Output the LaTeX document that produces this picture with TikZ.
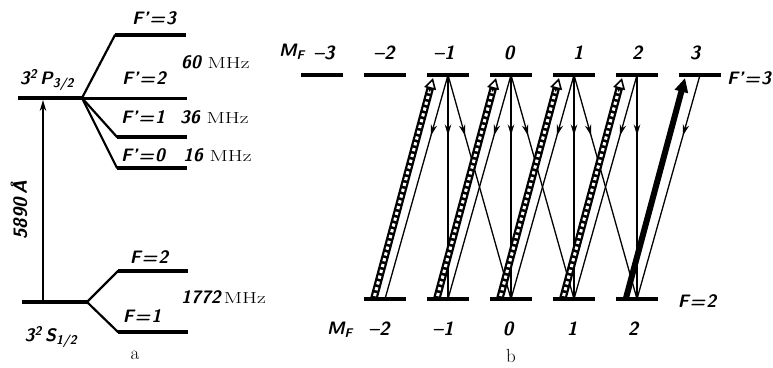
\documentclass[tikz,border=0pt]{standalone}
\usepackage{fontspec}
\usepackage{graphicx}
\usetikzlibrary{arrows.meta,decorations.markings,calc}
\newcommand\hpump[2]{%
  \draw[line width=7.5pt, shorten >=8pt] (#1) -- (#2);
  \draw[line width=3pt, white, dash pattern=on 3.2pt off 2.8pt, shorten >=9pt, shorten <=2pt] (#1) -- (#2);
  \draw[line width=1.6pt, -{Triangle[length=11pt,width=12pt,fill=white]}] ($(#2)!14pt!(#1)$) -- (#2);
}
\newcommand\mhzword{{\fontsize{16}{18}\selectfont\rmfamily\mdseries\upshape\scalebox{1.35}[1]{MHz}}}
\newcommand\eq{\kern1pt=\kern1pt}
\begin{document}
\begin{tikzpicture}[x=1pt,y=-1pt,
  lvl/.style={line width=3.8pt},
  fan/.style={line width=2.2pt, line cap=round},
  thinl/.style={line width=1.3pt},
  lab/.style={font=\fontsize{18}{20}\selectfont\sffamily\bfseries\slshape, inner sep=0pt},
  num/.style={font=\fontsize{19}{21}\selectfont\sffamily\bfseries\slshape, inner sep=0pt},
  figcap/.style={inner sep=0pt, font=\fontsize{19}{21}\selectfont\rmfamily},
  decay/.style={thinl, postaction={decorate}, decoration={markings,
     mark=at position 0.27 with {\arrow{Stealth[length=11pt,width=6.5pt]}}}},
]
\useasboundingbox (0,0) rectangle (773,367);

% ---------- part a ----------
\coordinate (Pl) at (18,98);  \coordinate (Pf) at (82,98);
\coordinate (P3a) at (115,35); \coordinate (P3b) at (186,35);
\coordinate (P2b) at (187,98);
\coordinate (P1a) at (117,137); \coordinate (P1b) at (187,137);
\coordinate (P0a) at (117,168); \coordinate (P0b) at (187,168);
\draw[lvl] (Pl) -- (Pf);
\draw[fan] (Pf) -- (P3a); \draw[lvl] (P3a) -- (P3b);
\draw[line width=3pt] (Pf) -- (P2b);
\draw[fan] (Pf) -- (P1a); \draw[lvl] (P1a) -- (P1b);
\draw[fan] (Pf) -- (P0a); \draw[lvl] (P0a) -- (P0b);

\coordinate (Sl) at (22,302); \coordinate (Sf) at (87,302);
\coordinate (S2a) at (118,271); \coordinate (S2b) at (188,271);
\coordinate (S1a) at (118,332); \coordinate (S1b) at (188,332);
\draw[lvl] (Sl) -- (Sf);
\draw[fan] (Sf) -- (S2a); \draw[lvl] (S2a) -- (S2b);
\draw[fan] (Sf) -- (S1a); \draw[lvl] (S1a) -- (S1b);

\coordinate (Ab) at (43,302); \coordinate (At) at (43,100);
\draw[thinl, -{Stealth[length=11pt,width=6.5pt]}] (Ab) -- (At);

\node[lab] (tF3) at (154,18) {F'\eq 3};
\node[lab] (tF2) at (144,78) {F'\eq 2};
\node[lab] (tF1) at (143,117) {F'\eq 1};
\node[lab] (tF0) at (143,155) {F'\eq 0};
\node[lab, anchor=west] (t60) at (181,62) {60 \mhzword};
\node[lab, anchor=west] (t36) at (180,117) {36 \mhzword};
\node[lab, anchor=west] (t16) at (183,155) {16 \mhzword};
\node[lab] (tP) at (47,80) {3\textsuperscript{2}\,P\textsubscript{3/2}};
\node[lab] (tG2) at (149,257) {F\eq 2};
\node[lab] (tG1) at (142,316) {F\eq 1};
\node[lab, anchor=west] (t1772) at (181,297) {1772\,\mhzword};
\node[lab] (tS) at (51,337) {3\textsuperscript{2}\,S\textsubscript{1/2}};
\node[figcap] (ta) at (135,355) {a};
\node[lab, rotate=90, font=\fontsize{19}{23}\selectfont\sffamily\bfseries\slshape] (tl) at (19,210) {5890\,\AA};

% ---------- part b ----------
\foreach \k/\x in {0/322,1/385,2/448,3/511,4/574,5/637,6/700}
  \coordinate (u\k) at (\x,75);
\foreach \k in {1,...,5}
  \coordinate (l\k) at ($(u\k)+(0,224)$);
\foreach \k in {0,...,6}
  \draw[lvl] ($(u\k)+(-21,0)$) -- ($(u\k)+(21,0)$);
\foreach \k in {1,...,5}
  \draw[lvl] ($(l\k)+(-21,0)$) -- ($(l\k)+(21,0)$);

\foreach \a/\b in {2/1,2/2,2/3,3/2,3/3,3/4,4/3,4/4,4/5,5/4,5/5,6/5}
  \draw[decay] (u\a) -- (l\b);

\foreach \k/\n in {1/2,2/3,3/4,4/5,5/6}{
  \coordinate (ps\k) at ($(l\k)+(-11,-1)$);
  \coordinate (pe\k) at ($(u\n)+(-15,3)$);
}
\foreach \k in {1,...,4} { \hpump{ps\k}{pe\k} }
\draw[line width=6pt, -{Triangle[length=14pt,width=13pt]}] (ps5) -- (pe5);

\node[lab] (mF1) at (292,52) {M\textsubscript{F}};
\foreach \t/\x in {{–3}/324,{–2}/384,{–1}/444,{0}/509,{1}/578,{2}/637,{3}/695}
  \node[num] at (\x,53) {\t};
\node[lab] (tFp3) at (749,78) {F'\eq 3};
\node[lab] (mF2) at (340,330) {M\textsubscript{F}};
\foreach \t/\x in {{–2}/379,{–1}/443,{0}/508,{1}/572,{2}/633}
  \node[num] at (\x,329) {\t};
\node[lab] (tFb2) at (697,301) {F\eq 2};
\node[figcap] (tb) at (511,356) {b};
\end{tikzpicture}
\end{document}
